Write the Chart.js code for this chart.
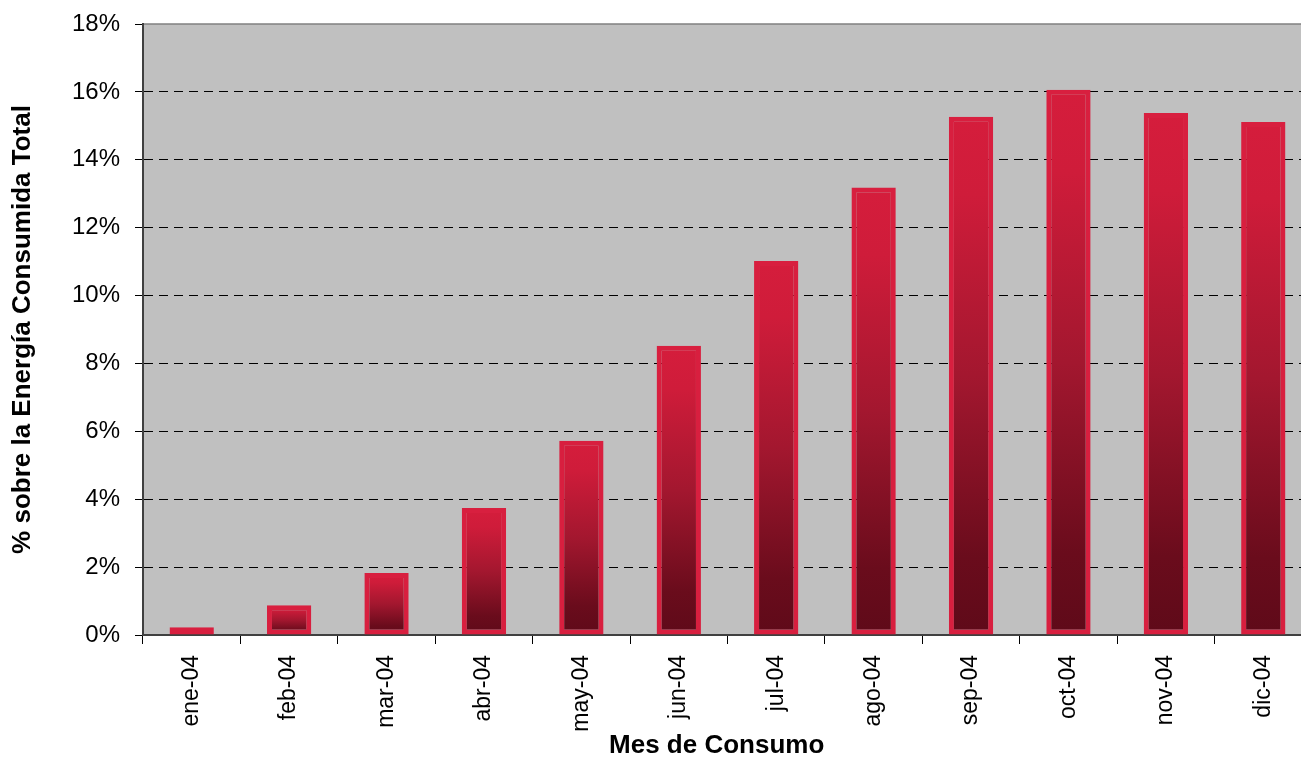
<!DOCTYPE html>
<html lang="es">
<head>
    <meta charset="UTF-8">
    <title>Energía consumida por mes</title>
    <script src="https://cdn.jsdelivr.net/npm/chart.js"></script>
    <style>
        body {
            margin: 0;
            overflow: hidden;
            background-color: #ffffff;
            font-family: Arial, "Liberation Sans", sans-serif;
        }
        canvas {
            display: block;
        }
    </style>
</head>
<body>
    <canvas id="consumoChart" width="1312" height="763"></canvas>
    <script>
        const months = ['ene-04', 'feb-04', 'mar-04', 'abr-04', 'may-04', 'jun-04',
                        'jul-04', 'ago-04', 'sep-04', 'oct-04', 'nov-04', 'dic-04'];
        const shares = [0.23, 0.88, 1.83, 3.74, 5.72, 8.52, 11.02, 13.18, 15.27, 16.06, 15.38, 15.11];
        const yTicks = [0, 2, 4, 6, 8, 10, 12, 14, 16, 18];

        // grey plot background behind the bars
        const plotBackground = {
            id: 'plotBackground',
            beforeDraw(chart) {
                const { ctx, chartArea } = chart;
                ctx.save();
                ctx.fillStyle = '#c0c0c0';
                ctx.fillRect(chartArea.left, chartArea.top, chartArea.right - chartArea.left, chartArea.bottom - chartArea.top);
                ctx.strokeStyle = '#808080';
                ctx.lineWidth = 1.5;
                ctx.beginPath();
                ctx.moveTo(chartArea.left, chartArea.top);
                ctx.lineTo(chartArea.right, chartArea.top);
                ctx.stroke();
                ctx.restore();
            }
        };

        // red-to-dark gradient along each bar's own height
        function barGradient(context) {
            const chart = context.chart;
            if (!chart.chartArea || context.parsed === undefined) return '#c81a37';
            const y = chart.scales.y;
            const top = y.getPixelForValue(context.parsed.y);
            const bottom = y.getPixelForValue(0);
            const g = chart.ctx.createLinearGradient(0, top, 0, bottom);
            g.addColorStop(0, '#d51d3c');
            g.addColorStop(0.15, '#cf1c3a');
            g.addColorStop(0.5, '#a3172f');
            g.addColorStop(0.85, '#6a0c1c');
            g.addColorStop(1, '#5f0a19');
            return g;
        }

        const ctx = document.getElementById('consumoChart').getContext('2d');
        new Chart(ctx, {
            type: 'bar',
            data: {
                labels: months,
                datasets: [{
                    data: shares,
                    backgroundColor: barGradient,
                    borderColor: '#d81f3f',
                    borderWidth: 5,
                    borderSkipped: false,
                    categoryPercentage: 1,
                    barPercentage: 0.455
                }]
            },
            options: {
                responsive: false,
                animation: false,
                layout: { padding: { top: 24, right: 0, left: 0, bottom: 0 } },
                plugins: {
                    legend: { display: false },
                    tooltip: { enabled: false }
                },
                scales: {
                    x: {
                        grid: {
                            display: true,
                            offset: true,
                            drawOnChartArea: false,
                            tickLength: 9,
                            color: '#000000',
                            tickColor: '#000000'
                        },
                        border: { color: '#404040', width: 2 },
                        ticks: {
                            color: '#000000',
                            font: { family: 'Arial', size: 23 },
                            minRotation: 90,
                            maxRotation: 90,
                            padding: 11
                        },
                        title: {
                            display: true,
                            text: 'Mes de Consumo   ',
                            color: '#000000',
                            font: { family: 'Arial', size: 26, weight: 'bold' },
                            padding: { top: 0, bottom: 2 }
                        },
                        afterFit(axis) { axis.height = 128; }
                    },
                    y: {
                        min: 0,
                        max: 18,
                        afterBuildTicks(axis) {
                            axis.ticks = yTicks.map(v => ({ value: v }));
                        },
                        grid: {
                            color: ctx => (ctx.tick && (ctx.tick.value === 0 || ctx.tick.value === 18)) ? 'rgba(0,0,0,0)' : '#000000',
                            tickColor: '#000000',
                            tickLength: 8,
                            lineWidth: 1
                        },
                        border: { color: '#404040', width: 2, dash: [9, 6] },
                        ticks: {
                            color: '#000000',
                            font: { family: 'Arial', size: 24 },
                            padding: 15,
                            callback: v => v + '%'
                        },
                        title: {
                            display: true,
                            text: '% sobre la Energía Consumida Total',
                            color: '#000000',
                            font: { family: 'Arial', size: 26, weight: 'bold' },
                            padding: { top: 7, bottom: 0 }
                        },
                        afterFit(axis) {
                            axis.width = 143;
                            axis.paddingTop = 0;
                            axis.paddingBottom = 0;
                        }
                    }
                }
            },
            plugins: [plotBackground]
        });
    </script>
</body>
</html>
